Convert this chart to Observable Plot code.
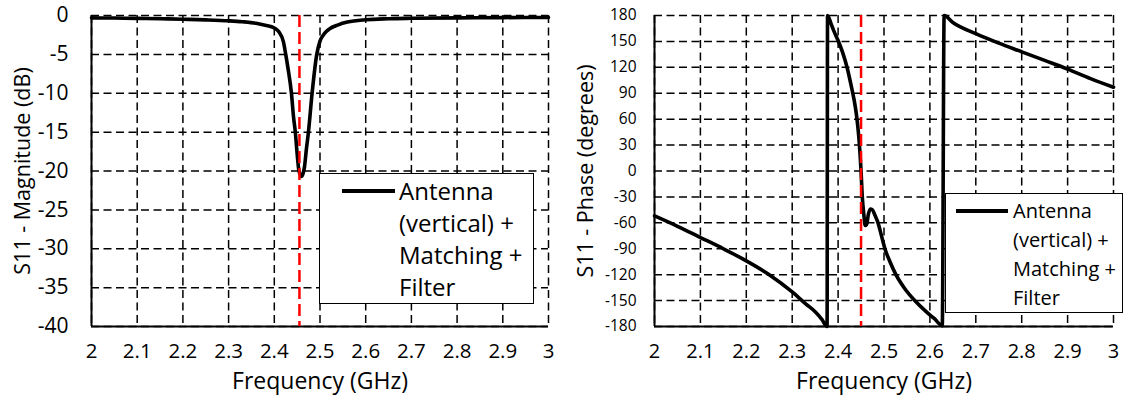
<!DOCTYPE html>
<html>
<head>
<meta charset="utf-8">
<script src="https://cdn.jsdelivr.net/npm/d3@7"></script>
<script src="https://cdn.jsdelivr.net/npm/@observablehq/plot@0.6"></script>
<style>
  body { margin: 0; background: #fff; font-family: "Open Sans", Lato, sans-serif; }
  #wrap { position: relative; width: 1127px; height: 406px; overflow: hidden; }
  .panel { position: absolute; top: 0; }
  .legend { position: absolute; background: #fff; border: 1.5px solid #000; box-sizing: border-box; }
  .legend .swatch { position: absolute; height: 4px; background: #000; }
  .legend .ltext { position: absolute; color: #000; white-space: nowrap; }
</style>
</head>
<body>
<div id="wrap"></div>
<script>
// Frequency axis ticks (GHz)
const freqTicks = [2, 2.1, 2.2, 2.3, 2.4, 2.5, 2.6, 2.7, 2.8, 2.9, 3];
const magTicks = [0, -5, -10, -15, -20, -25, -30, -35, -40];
const phaseTicks = [180, 150, 120, 90, 60, 30, 0, -30, -60, -90, -120, -150, -180];

// S11 magnitude (dB) vs frequency (GHz)
const magFreq = [2.00, 2.05, 2.10, 2.15, 2.20, 2.25, 2.30, 2.33, 2.36, 2.38, 2.40, 2.41, 2.42, 2.425,
  2.43, 2.4375, 2.442, 2.446, 2.450, 2.454, 2.459, 2.4625, 2.466, 2.470, 2.4747, 2.4827, 2.4929,
  2.50, 2.51, 2.52, 2.54, 2.56, 2.60, 2.65, 2.70, 2.80, 2.90, 3.00];
const magDb = [-0.30, -0.33, -0.37, -0.42, -0.48, -0.56, -0.68, -0.80, -1.0, -1.25, -1.6, -2.1, -3.4, -5.0,
  -6.8, -10.0, -13.0, -15.0, -17.8, -20.0, -20.7, -20.4, -19.5, -17.3, -15.0, -10.0, -5.0,
  -3.3, -2.3, -1.75, -1.2, -0.85, -0.55, -0.42, -0.36, -0.30, -0.27, -0.25];

// S11 phase (degrees) vs frequency (GHz), wrapped to ±180
const phaseFreq = [2.00, 2.05, 2.10, 2.15, 2.20, 2.25, 2.30, 2.33, 2.35, 2.365, 2.376, 2.377,
  2.385, 2.39, 2.40, 2.41, 2.42, 2.43, 2.435, 2.44, 2.445, 2.448, 2.450, 2.4527, 2.456, 2.459,
  2.462, 2.466, 2.470, 2.475, 2.480, 2.487, 2.495, 2.502, 2.513, 2.526, 2.545, 2.567, 2.59, 2.61,
  2.627, 2.631, 2.65, 2.70, 2.75, 2.80, 2.85, 2.90, 2.95, 3.00];
const phaseDeg = [-52, -64, -77, -90, -104, -120, -140, -154, -163, -172, -180, 180,
  170, 163, 151, 137, 119, 95, 82, 65, 40, 18, 0, -30, -50, -63,
  -62, -50, -44, -45, -51, -60, -76, -90, -105, -120, -136, -150, -162, -171,
  -179, 180, 172, 159, 148, 138, 128, 118, 107, 97];

// 2.45 GHz band centre markers
const markerMag = [2.455];
const markerPhase = [2.45];

const legendLines = ["Antenna", "(vertical) +", "Matching +", "Filter"];

const magRows = magFreq.map((f, i) => ({f, v: magDb[i]}));
const phaseRows = phaseFreq.map((f, i) => ({f, v: phaseDeg[i]}));

function panel({rows, yTicks, yDomain, marker, yTitle, width, marginLeft, marginRight,
                yTickSize, yTickDx, xTickSize, titleDx}) {
  const yMin = yDomain[0];
  const xMin = freqTicks[0];
  return Plot.plot({
    width, height: 406,
    marginLeft, marginRight, marginTop: 15, marginBottom: 80,
    x: {domain: [freqTicks[0], freqTicks[freqTicks.length - 1]], axis: null},
    y: {domain: yDomain, axis: null},
    style: {fontFamily: "'Open Sans', Lato, sans-serif", background: "#fff", overflow: "visible"},
    marks: [
      Plot.ruleX(freqTicks, {stroke: "#000", strokeWidth: 1.5, strokeDasharray: "8,4.5"}),
      Plot.ruleY(yTicks, {stroke: "#000", strokeWidth: 1.5, strokeDasharray: "8,4.5"}),
      Plot.ruleX([xMin], {stroke: "#000", strokeWidth: 2}),
      Plot.ruleY([yMin], {stroke: "#000", strokeWidth: 2}),
      Plot.line(rows, {x: "f", y: "v", stroke: "#000", strokeWidth: 3.6, curve: "monotone-x",
        strokeLinejoin: "round"}),
      Plot.ruleX(marker, {stroke: "#ff0000", strokeWidth: 2.5, strokeDasharray: "12,5"}),
      Plot.text(yTicks, {x: xMin, y: d => d, text: d => String(d), textAnchor: "end",
        dx: yTickDx, fontSize: yTickSize, fill: "#000"}),
      Plot.text(freqTicks, {x: d => d, frameAnchor: "bottom", text: d => String(d),
        dy: 31.5, fontSize: xTickSize, fill: "#000"}),
      Plot.text(["Frequency (GHz)"], {text: d => d, frameAnchor: "bottom", dy: 62.5,
        fontSize: 23, fill: "#000"}),
      Plot.text([yTitle], {text: d => d, frameAnchor: "left", textAnchor: "middle", rotate: -90,
        dx: titleDx, fontSize: 21.5, fill: "#000"})
    ]
  });
}

function legend(parent, {left, top, width, height, swLeft, swTop, swWidth, textLeft, textTop,
                         fontSize, lineHeight}) {
  const box = document.createElement("div");
  box.className = "legend";
  Object.assign(box.style, {left: left + "px", top: top + "px", width: width + "px", height: height + "px"});
  const sw = document.createElement("div");
  sw.className = "swatch";
  Object.assign(sw.style, {left: swLeft + "px", top: swTop + "px", width: swWidth + "px"});
  const tx = document.createElement("div");
  tx.className = "ltext";
  Object.assign(tx.style, {left: textLeft + "px", top: textTop + "px", fontSize: fontSize + "px",
    lineHeight: lineHeight + "px"});
  tx.innerHTML = legendLines.join("<br>");
  box.append(sw, tx);
  parent.append(box);
}

const wrap = document.getElementById("wrap");

const left = panel({rows: magRows, yTicks: magTicks, yDomain: [-40, 0], marker: markerMag,
  yTitle: "S11 - Magnitude (dB)", width: 563, marginLeft: 91, marginRight: 15,
  yTickSize: 21, yTickDx: -23, xTickSize: 20.5, titleDx: -68});
left.classList.add("panel");
left.style.left = "0px";
wrap.append(left);

const right = panel({rows: phaseRows, yTicks: phaseTicks, yDomain: [-180, 180], marker: markerPhase,
  yTitle: "S11 - Phase (degrees)", width: 564, marginLeft: 91, marginRight: 14,
  yTickSize: 15.5, yTickDx: -18, xTickSize: 20, titleDx: -68});
right.classList.add("panel");
right.style.left = "563px";
wrap.append(right);

legend(wrap, {left: 319, top: 173, width: 215, height: 131, swLeft: 22, swTop: 15, swWidth: 53,
  textLeft: 79, textTop: 1, fontSize: 24, lineHeight: 32});
legend(wrap, {left: 945, top: 193, width: 178, height: 120, swLeft: 10, swTop: 15, swWidth: 52,
  textLeft: 67, textTop: 2, fontSize: 20, lineHeight: 29});
</script>
</body>
</html>
